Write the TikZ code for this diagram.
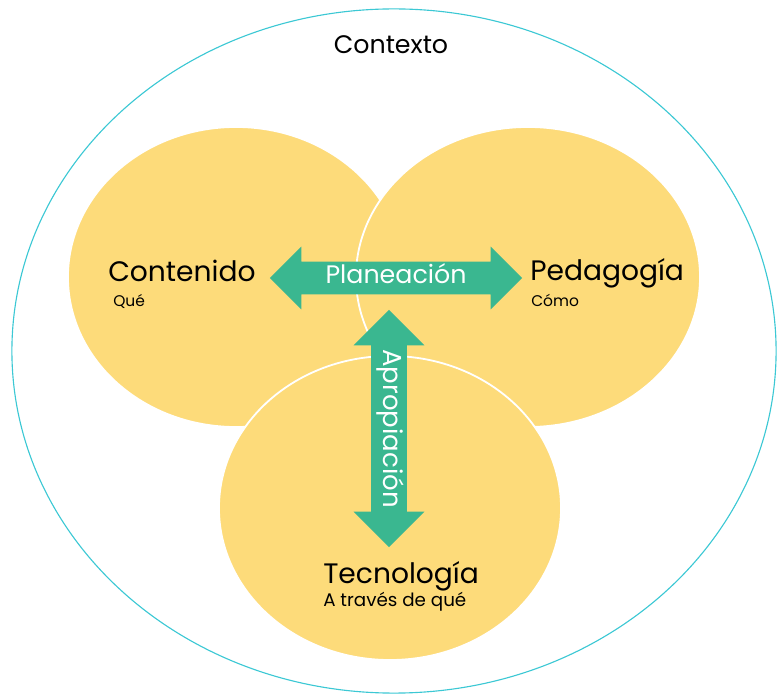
\documentclass[tikz,border=0pt]{standalone}
\usepackage{fontspec}
\setmainfont{Poppins}
\usetikzlibrary{shapes.arrows}
\definecolor{amarillo}{RGB}{253,219,122}
\definecolor{verde}{RGB}{58,183,144}
\definecolor{cian}{RGB}{60,200,212}
\tikzset{
  circulo/.style={fill=amarillo, draw=white, line width=1.3pt},
  flecha/.style={double arrow, double arrow head indent=0pt, fill=verde, text=white,
    inner xsep=0pt, text height=0.34cm, text depth=0.08cm,
    font=\fontsize{18}{18}\selectfont},
  titulo/.style={anchor=base west, inner sep=0pt, font=\fontsize{20}{20}\selectfont},
  subtitulo/.style={anchor=base west, inner sep=0pt, font=\fontsize{11}{11}\selectfont}
}
\begin{document}
\begin{tikzpicture}[x=0.025cm,y=-0.025cm]
\useasboundingbox (0,0) rectangle (777,694);
\draw[cian, line width=0.8pt] (394,351) ellipse [x radius=9.55cm, y radius=8.55cm];
\node[anchor=base, inner sep=0pt, font=\fontsize{18}{18}\selectfont] (contexto) at (391,54) {Contexto};
\draw[circulo] (236,277) ellipse [x radius=4.2cm, y radius=3.75cm];
\draw[circulo] (528,277) ellipse [x radius=4.3cm, y radius=3.75cm];
\draw[circulo] (390,508) ellipse [x radius=4.275cm, y radius=3.8cm];
\node[titulo] (contenido) at (108,282) {Contenido};
\node[subtitulo] (que) at (113,307) {Qué};
\node[titulo] (pedagogia) at (530,281) {Pedagogía};
\node[subtitulo] (como) at (531,307) {Cómo};
\node[titulo] (tecnologia) at (323,583) {Tecnología};
\node[subtitulo, font=\fontsize{13}{13}\selectfont] (atraves) at (323,607) {A través de qué};
\node[flecha, minimum height=6.3cm, inner ysep=0.19cm, double arrow head extend=0.375cm] (planeacion) at (396,278) {Planeación};
\node[flecha, rotate=-90, minimum height=5.925cm, inner ysep=0.2275cm, double arrow head extend=0.4375cm, font=\fontsize{18.5}{18.5}\selectfont] (apropiacion) at (389,428.5) {Apropiación};
\end{tikzpicture}
\end{document}
